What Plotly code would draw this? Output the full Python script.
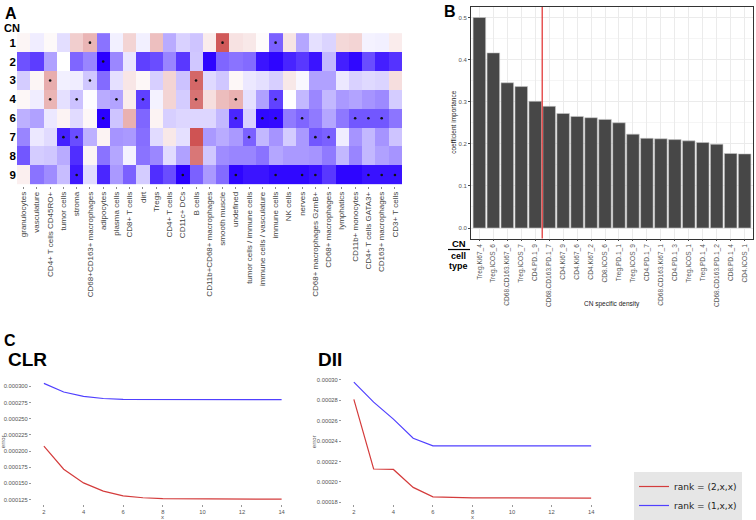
import plotly.graph_objects as go

# ---------------- Panel A data ----------------
cn_rows = ["1", "2", "3", "4", "6", "7", "8", "9"]
cell_types = [
    "granulocytes", "vasculature", "CD4+ T cells CD45RO+", "tumor cells", "stroma",
    "CD68+CD163+ macrophages", "adipocytes", "plasma cells", "CD8+ T cells", "dirt",
    "Tregs", "CD4+ T cells", "CD11c+ DCs", "B cells", "CD11b+CD68+ macrophages",
    "smooth muscle", "undefined", "tumor cells / immune cells", "immune cells / vasculature",
    "immune cells", "NK cells", "nerves", "CD68+ macrophages GzmB+", "CD68+ macrophages",
    "lymphatics", "CD11b+ monocytes", "CD4+ T cells GATA3+", "CD163+ macrophages", "CD3+ T cells",
]
cn1 = [0.05, -0.07, 0.03, -0.13, 0.25, 0.38, -0.55, -0.06, 0.22, -0.06, 0.33, -0.33, -0.18, -0.23, 0.10,
       0.85, 0.15, 0.12, 0.02, -0.62, 0.14, -0.35, -0.12, -0.17, 0.20, 0.22, -0.05, -0.06, 0.10]
cn2 = [-0.68, -0.76, -0.37, 0.00, -0.60, -0.48, -1.00, -0.47, -0.10, -0.75, -0.70, -0.48, -0.78, -0.22, -0.98,
       -0.60, -0.55, -0.58, -0.92, -0.98, -0.86, -0.78, -0.92, -0.28, -0.88, -0.97, -0.70, -0.88, -0.80]
cn3 = [-0.20, 0.05, 0.42, -0.06, -0.07, -0.22, -0.58, -0.12, 0.13, 0.04, -0.19, 0.22, -0.24, 0.78, -0.15,
       -0.22, 0.04, -0.09, -0.12, -0.19, 0.12, -0.03, -0.37, -0.37, -0.09, -0.18, -0.15, -0.17, 0.17]
cn4 = [0.04, -0.07, 0.38, -0.12, -0.24, -0.01, -0.33, -0.36, 0.10, -0.75, -0.05, 0.22, -0.20, 0.72, 0.17,
       0.34, 0.40, -0.12, -0.37, -0.74, 0.00, -0.28, -0.47, -0.28, -0.40, -0.36, -0.42, -0.46, -0.20]
cn6 = [-0.31, -0.37, -0.09, 0.06, -0.14, 0.04, -1.00, -0.23, 0.40, -0.60, 0.06, -0.19, -0.16, -0.16, -0.16,
       -0.28, -0.85, -0.18, -0.97, -0.96, -0.52, -0.60, -0.52, -0.35, -0.53, -0.66, -0.66, -0.66, -0.54]
cn7 = [-0.48, -0.09, -0.14, -0.88, -0.70, -0.31, 0.06, -0.42, -0.40, -0.57, -0.14, 0.12, -0.12, 0.88, -0.40,
       -0.33, -0.40, -0.62, -0.28, -0.42, -0.20, -0.40, -0.66, -0.62, -0.07, -0.42, -0.28, -0.42, -0.23]
cn8 = [-0.66, -0.20, -0.22, -0.33, -0.82, 0.05, -0.55, -0.35, -0.05, -0.55, -0.47, -0.14, -0.37, 0.70, -0.22,
       -0.45, -0.48, -0.48, -0.55, -0.35, -0.40, -0.40, -0.42, -0.52, -0.28, -0.48, -0.28, -0.37, -0.42]
cn9 = [0.08, -0.55, -0.45, -0.26, -0.90, -0.14, -0.85, -0.40, -0.62, -0.20, -0.82, -0.70, -1.00, -0.62, -0.40,
       -0.58, -0.98, -0.92, -0.92, -0.97, -0.97, -0.97, -0.93, -0.78, -0.98, -0.98, -0.93, -0.93, -0.93]
enrichment = [cn1, cn2, cn3, cn4, cn6, cn7, cn8, cn9]
# significant cells: column indices per CN row
sig_cols = [
    [5, 15, 19],
    [6],
    [2, 5, 13],
    [2, 4, 7, 9, 13, 16, 19],
    [6, 16, 18, 19, 21, 25, 26, 27],
    [3, 4, 17, 22, 23],
    [],
    [4, 12, 16, 19, 21, 22, 26, 27, 28],
]

# ---------------- Panel B data ----------------
features = [
    "Treg.Ki67_4", "Treg.ICOS_6", "CD68.CD163.Ki67_6", "Treg.ICOS_7", "CD4.PD.1_9",
    "CD68.CD163.PD.1_7", "CD4.Ki67_9", "CD4.Ki67_6", "CD4.Ki67_2", "CD8.ICOS_6",
    "Treg.PD.1_1", "Treg.ICOS_9", "CD4.PD.1_7", "CD68.CD163.Ki67_1", "CD4.PD.1_3",
    "Treg.ICOS_1", "Treg.PD.1_4", "CD68.CD163.PD.1_2", "CD8.PD.1_4", "CD4.ICOS_1",
]
importance = [0.500, 0.416, 0.345, 0.336, 0.301, 0.289, 0.272, 0.265, 0.262, 0.258,
              0.250, 0.223, 0.213, 0.212, 0.210, 0.207, 0.203, 0.199, 0.177, 0.176]
cutoff_after = 5  # red line after the 5th feature

# ---------------- Panel C data ----------------
ranks_x = [2, 3, 4, 5, 6, 7, 8, 9, 10, 11, 12, 13, 14]
clr_rank2 = [0.0002076, 0.0001718, 0.0001507, 0.0001380, 0.0001307, 0.0001277, 0.0001262,
             0.0001259, 0.0001258, 0.0001258, 0.0001257, 0.0001257, 0.0001257]
clr_rank1 = [0.0003045, 0.0002912, 0.0002846, 0.0002812, 0.0002797, 0.0002795, 0.0002794,
             0.0002794, 0.0002794, 0.0002794, 0.0002794, 0.0002794, 0.0002794]
dii_rank2 = [0.0002809, 0.0002126, 0.0002122, 0.0001946, 0.0001853, 0.0001846, 0.0001844,
             0.0001843, 0.0001842, 0.0001842, 0.0001841, 0.0001841, 0.0001840]
dii_rank1 = [0.0002978, 0.0002782, 0.0002615, 0.0002428, 0.0002353, 0.0002352, 0.0002352,
             0.0002352, 0.0002352, 0.0002352, 0.0002352, 0.0002352, 0.0002352]

W, H = 756, 520
FONT = "Liberation Sans, Arial, sans-serif"
RED_LINE = "#d43c3c"
BLUE_LINE = "#5040ff"


def px(x0, x1):
    return [x0 / W, x1 / W]


def py(top, bottom):
    return [1 - bottom / H, 1 - top / H]


fig = go.Figure()

# ---- Panel A heatmap ----
fig.add_trace(go.Heatmap(
    z=enrichment, x=cell_types, y=cn_rows,
    colorscale=[[0, "rgb(42,0,255)"], [0.5, "rgb(255,255,255)"], [1, "rgb(200,60,60)"]],
    zmin=-1, zmax=1, showscale=False, xaxis="x", yaxis="y", hoverinfo="skip",
))
dot_x, dot_y = [], []
for r, cols in enumerate(sig_cols):
    for c in cols:
        dot_x.append(cell_types[c])
        dot_y.append(cn_rows[r])
fig.add_trace(go.Scatter(
    x=dot_x, y=dot_y, mode="markers", xaxis="x", yaxis="y",
    marker=dict(size=2.6, color="#111111"), showlegend=False, hoverinfo="skip",
))

# ---- Panel B bars ----
fig.add_trace(go.Bar(
    x=features, y=importance, xaxis="x2", yaxis="y2", width=0.9,
    marker=dict(color="#474747", line=dict(color="#c8c8c8", width=0.6)),
    showlegend=False, hoverinfo="skip",
))

# ---- Panel C lines ----
fig.add_trace(go.Scatter(x=ranks_x, y=clr_rank2, mode="lines", xaxis="x3", yaxis="y3",
                         line=dict(color=RED_LINE, width=1.2), name="rank = (2,x,x)", legendrank=1))
fig.add_trace(go.Scatter(x=ranks_x, y=clr_rank1, mode="lines", xaxis="x3", yaxis="y3",
                         line=dict(color=BLUE_LINE, width=1.2), name="rank = (1,x,x)", legendrank=2))
fig.add_trace(go.Scatter(x=ranks_x, y=dii_rank2, mode="lines", xaxis="x4", yaxis="y4",
                         line=dict(color=RED_LINE, width=1.2), showlegend=False))
fig.add_trace(go.Scatter(x=ranks_x, y=dii_rank1, mode="lines", xaxis="x4", yaxis="y4",
                         line=dict(color=BLUE_LINE, width=1.2), showlegend=False))

small = dict(family=FONT, size=5.8, color="#555555")

fig.update_layout(
    width=W, height=H, margin=dict(l=0, r=0, t=0, b=0),
    paper_bgcolor="white", plot_bgcolor="white",
    font=dict(family=FONT),
    xaxis=dict(domain=px(17, 418), type="category", tickangle=-90, showgrid=False,
               zeroline=False, ticks="outside", ticklen=2, tickcolor="#888888",
               tickfont=dict(family=FONT, size=8, color="#444444"), anchor="y"),
    yaxis=dict(domain=py(32, 186), type="category", autorange="reversed", showgrid=False,
               zeroline=False, ticks="", tickfont=dict(family=FONT, size=11.5, color="black",
                                                        weight="bold"), anchor="x"),
    xaxis2=dict(domain=px(471, 753), type="category", tickangle=-90, showgrid=True,
                gridcolor="#ebebeb", gridwidth=0.8, range=[-0.6, len(features) - 0.4],
                ticks="outside", ticklen=2, tickcolor="#444444",
                showline=True, mirror=True, linecolor="#333333", linewidth=0.8,
                tickfont=dict(family=FONT, size=6.6, color="#555555"), anchor="y2"),
    yaxis2=dict(domain=py(7, 239), range=[-0.025, 0.525], dtick=0.1, tickformat=".1f",
                showgrid=True, gridcolor="#ebebeb", gridwidth=0.8, zeroline=False,
                minor=dict(dtick=0.05, showgrid=True, gridcolor="#f5f5f5", gridwidth=0.5),
                ticks="outside", ticklen=2, tickcolor="#444444",
                showline=True, mirror=True, linecolor="#333333", linewidth=0.8,
                tickfont=dict(family=FONT, size=6, color="#555555"), anchor="x2"),
    xaxis3=dict(domain=px(32, 293.5), range=[1.4, 14.6], dtick=2, showgrid=False, zeroline=False,
                ticks="outside", ticklen=2, tickcolor="#999999", tickfont=small, anchor="y3"),
    yaxis3=dict(domain=py(378, 505), range=[0.000118, 0.000314], dtick=0.000025, tickformat=".6f",
                showgrid=False, zeroline=False, ticks="outside", ticklen=2, tickcolor="#999999",
                tickfont=small, anchor="x3"),
    xaxis4=dict(domain=px(342, 603), range=[1.4, 14.6], dtick=2, showgrid=False, zeroline=False,
                ticks="outside", ticklen=2, tickcolor="#999999", tickfont=small, anchor="y4"),
    yaxis4=dict(domain=py(377, 505), range=[0.0001783, 0.0003035], dtick=0.00002, tickformat=".5f",
                showgrid=False, zeroline=False, ticks="outside", ticklen=2, tickcolor="#999999",
                tickfont=small, anchor="x4"),
    showlegend=True,
    legend=dict(x=634 / W, y=1 - 473 / H, xanchor="left", yanchor="top",
                bgcolor="#e6e6e6", font=dict(family="DejaVu Sans, sans-serif", size=9, color="#222222"),
                itemwidth=30, tracegroupgap=0, borderwidth=0),
)

# red cut-off line in panel B
fig.add_shape(type="line", xref="x2", yref="y2 domain", x0=cutoff_after - 0.5, x1=cutoff_after - 0.5,
              y0=0, y1=1, line=dict(color="#e02a2a", width=1.2))
# underline in "CN / cell type" key
fig.add_shape(type="line", xref="paper", yref="paper", x0=448 / W, x1=470 / W,
              y0=1 - 250 / H, y1=1 - 250 / H, line=dict(color="black", width=1.2))

anns = [
    dict(text="<b>A</b>", x=3, y=3, size=16),
    dict(text="<b>CN</b>", x=2, y=20, size=11),
    dict(text="<b>B</b>", x=442, y=1, size=16),
    dict(text="<b>C</b>", x=2, y=331, size=16),
    dict(text="<b>CLR</b>", x=6, y=348, size=19),
    dict(text="<b>DII</b>", x=316, y=348, size=19),
]
for a in anns:
    fig.add_annotation(text=a["text"], xref="paper", yref="paper", x=a["x"] / W, y=1 - a["y"] / H,
                       xanchor="left", yanchor="top", showarrow=False,
                       font=dict(family=FONT, size=a["size"], color="black"))


def label(text, x, y, size, color="#222222", angle=0):
    fig.add_annotation(text=text, xref="paper", yref="paper", x=x / W, y=1 - y / H,
                       xanchor="center", yanchor="middle", textangle=angle, showarrow=False,
                       borderpad=0, font=dict(family=FONT, size=size, color=color))


# "CN / cell type" key
label("<b>CN</b>", 459, 243.5, 9.5, "black")
label("<b>cell</b>", 459, 256, 9, "black")
label("<b>type</b>", 459, 266.5, 9, "black")

# axis titles
label("coefficient importance", 454, 123, 6.5, "#222222", -90)
label("CN specific density", 612, 305, 6.5, "#222222")
for xc in (162.5, 472):
    label("x", xc, 517.5, 6, "#555555")
label("error", 3, 443, 6, "#555555", -90)
label("error", 314, 443, 6, "#555555", -90)

fig.write_html("out.html", config={"displayModeBar": False},
               post_script="document.body.style.margin='0';")
